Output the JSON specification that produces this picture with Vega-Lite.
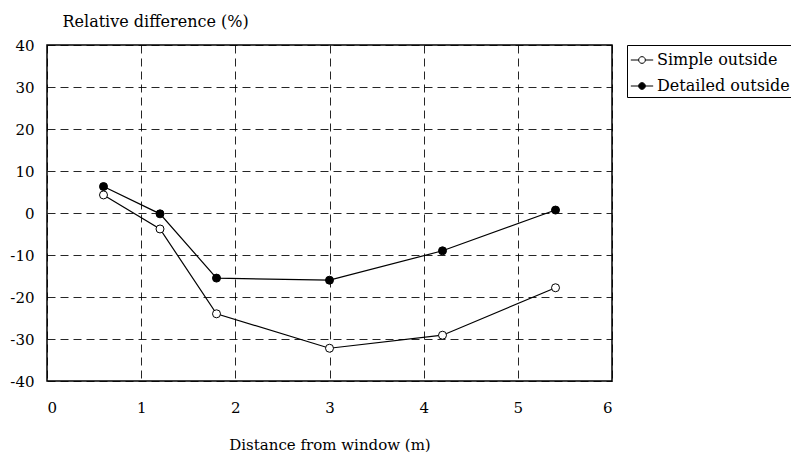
{
  "$schema": "https://vega.github.io/schema/vega-lite/v6.json",
  "width": 565,
  "height": 336,
  "autosize": "none",
  "padding": {"left": 47, "top": 45, "right": 179, "bottom": 80},
  "background": "white",
  "config": {
    "font": "DejaVu Serif",
    "view": {"stroke": "black", "strokeWidth": 1.5},
    "axis": {
      "domain": false,
      "ticks": false,
      "grid": true,
      "gridColor": "black",
      "gridDash": [8, 5],
      "gridWidth": 1,
      "gridOpacity": 0.85,
      "labelFont": "DejaVu Serif",
      "labelFontSize": 15,
      "labelColor": "black",
      "titleFont": "DejaVu Serif",
      "titleFontSize": 16,
      "titleFontWeight": "normal",
      "titleColor": "black"
    }
  },
  "data": {
    "values": [
      {"x": 0.6, "y": 4.3, "series": "Simple outside"},
      {"x": 1.2, "y": -3.8, "series": "Simple outside"},
      {"x": 1.8, "y": -24.0, "series": "Simple outside"},
      {"x": 3.0, "y": -32.2, "series": "Simple outside"},
      {"x": 4.2, "y": -29.1, "series": "Simple outside"},
      {"x": 5.4, "y": -17.8, "series": "Simple outside"},
      {"x": 0.6, "y": 6.3, "series": "Detailed outside"},
      {"x": 1.2, "y": -0.2, "series": "Detailed outside"},
      {"x": 1.8, "y": -15.5, "series": "Detailed outside"},
      {"x": 3.0, "y": -16.0, "series": "Detailed outside"},
      {"x": 4.2, "y": -9.0, "series": "Detailed outside"},
      {"x": 5.4, "y": 0.7, "series": "Detailed outside"}
    ]
  },
  "encoding": {
    "x": {
      "field": "x",
      "type": "quantitative",
      "scale": {"domain": [0, 6], "nice": false, "zero": false},
      "axis": {
        "values": [0, 1, 2, 3, 4, 5, 6],
        "title": "Distance from window (m)",
        "titleFontSize": 15,
        "labelPadding": 19,
        "titlePadding": 22
      }
    },
    "y": {
      "field": "y",
      "type": "quantitative",
      "scale": {"domain": [-40, 40], "nice": false},
      "axis": {
        "values": [-40, -30, -20, -10, 0, 10, 20, 30, 40],
        "labelExpr": "replace(datum.label, '−', '-')",
        "title": "Relative difference (%)",
        "titleAngle": 0,
        "titleAlign": "left",
        "titleBaseline": "middle",
        "titleX": 15,
        "titleY": -24,
        "labelPadding": 13
      }
    }
  },
  "layer": [
    {
      "mark": {"type": "line", "color": "black", "strokeWidth": 1.2},
      "encoding": {"detail": {"field": "series"}}
    },
    {
      "mark": {"type": "point", "shape": "circle", "filled": true, "stroke": "black", "strokeWidth": 1, "size": 64, "opacity": 1},
      "encoding": {
        "fill": {
          "field": "series",
          "type": "nominal",
          "scale": {"domain": ["Simple outside", "Detailed outside"], "range": ["white", "black"]},
          "legend": {
            "title": null,
            "orient": "none",
            "legendX": 580,
            "legendY": 0,
            "strokeColor": "black",
            "padding": 3,
            "rowPadding": 6,
            "symbolType": "M -0.3 0 A 0.3 0.3 0 1 1 0.3 0 A 0.3 0.3 0 1 1 -0.3 0 Z M -1 0 L -0.3 0 M 0.3 0 L 1 0",
            "symbolSize": 500,
            "symbolStrokeColor": "black",
            "symbolStrokeWidth": 1,
            "labelFont": "DejaVu Serif",
            "labelFontSize": 16,
            "labelColor": "black",
            "labelOffset": 3,
            "labelLimit": 300
          }
        }
      }
    }
  ]
}
